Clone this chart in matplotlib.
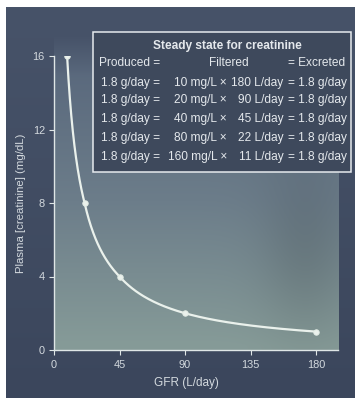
import numpy as np
import matplotlib
matplotlib.use("Agg")
import matplotlib.pyplot as plt
from matplotlib.patches import Rectangle

# ---------------- data ----------------
gfr = [9, 21, 45, 90, 180]          # L/day (as drawn)
plasma = [16, 8, 4, 2, 1]           # mg/dL
x_ticks = [0, 45, 90, 135, 180]
y_ticks = [0, 4, 8, 12, 16]

table_title = "Steady state for creatinine"
header = ["Produced =", "Filtered", "= Excreted"]
produced = ["1.8 g/day", "1.8 g/day", "1.8 g/day", "1.8 g/day", "1.8 g/day"]
conc = [10, 20, 40, 80, 160]        # mg/L
filt_gfr = [180, 90, 45, 22, 11]    # L/day
excreted = ["1.8 g/day", "1.8 g/day", "1.8 g/day", "1.8 g/day", "1.8 g/day"]

# ---------------- figure ----------------
W, H = 361, 403
DPI = 100
plt.rcParams['font.family'] = ['Liberation Sans', 'DejaVu Sans']
fig = plt.figure(figsize=(W / DPI, H / DPI), dpi=DPI, facecolor='white')

def px(x, y):
    return x / W, 1 - y / H

# background image (decoration: dark panel + lighter plot area)
yy, xx = np.mgrid[0:H, 0:W].astype(float)
img = np.ones((H, W, 3))
top_dark = np.array([0x47, 0x53, 0x69]) / 255
bot_dark = np.array([0x3b, 0x46, 0x5c]) / 255
t = np.clip((yy - 7) / 390, 0, 1)[..., None]
dark = top_dark * (1 - t) + bot_dark * t
frame = (xx >= 6) & (xx <= 354) & (yy >= 7) & (yy <= 397)
img[frame] = dark[frame]

c1 = np.array([0x5a, 0x69, 0x7d]) / 255
c2 = np.array([0x6c, 0x7d, 0x8a]) / 255
c3 = np.array([0x86, 0x9b, 0x98]) / 255
yl = yy[..., None]
light = np.where(yl < 200,
                 c1 + (c2 - c1) * np.clip((yl - 70) / 130, 0, 1),
                 c2 + (c3 - c2) * np.clip((yl - 200) / 145, 0, 1))
# slightly darker zone on the right side
blob = np.exp(-(((xx - 305) / 45) ** 2 + ((yy - 250) / 90) ** 2))[..., None]
light = light * (1 - 0.11 * blob)
alpha = np.clip((yy - 35) / 40, 0, 1)[..., None]
plot_region = ((xx >= 54) & (xx <= 338) & (yy <= 350))[..., None]
a = alpha * plot_region
img = img * (1 - a) + light * a

bg = fig.add_axes([0, 0, 1, 1], zorder=-10)
bg.imshow(img, extent=(0, W, H, 0), aspect='auto', interpolation='bilinear')
bg.set_xlim(0, W)
bg.set_ylim(H, 0)
bg.axis('off')

# ---------------- main axes ----------------
left, right, top, bottom = 54, 338, 56, 350
ax = fig.add_axes([left / W, 1 - bottom / H, (right - left) / W, (bottom - top) / H])
ax.set_facecolor('none')
ax.set_xlim(0, 195)
ax.set_ylim(0, 16)

spine_c = '#dfe6e6'
tick_c = '#d3d9de'
for s in ['top', 'right']:
    ax.spines[s].set_visible(False)
for s in ['left', 'bottom']:
    ax.spines[s].set_color(spine_c)
    ax.spines[s].set_linewidth(1.0)
ax.set_xticks(x_ticks)
ax.set_yticks(y_ticks)
ax.tick_params(axis='both', colors=spine_c, labelcolor=tick_c, direction='out',
               length=3.6, width=0.8, labelsize=7.9)
ax.tick_params(axis='x', pad=3.5)
ax.tick_params(axis='y', pad=3)

# smooth curve through the data (power-law segments between the points)
lx = np.log(gfr)
ly = np.log(plasma)
xs = np.linspace(lx[0], lx[-1], 400)
ys = np.interp(xs, lx, ly)
line_c = '#eaf1ec'
ax.plot(np.exp(xs), np.exp(ys), color=line_c, lw=1.6, solid_capstyle='round', zorder=3)
ax.plot(gfr, plasma, 'o', color=line_c, ms=4, mec='#dfe9e2', mew=0.6, zorder=4)

ax.set_xlabel("GFR (L/day)", fontsize=8.5, color=tick_c)
ax.set_ylabel("Plasma [creatinine] (mg/dL)", fontsize=8.2, color=tick_c)
ax.xaxis.set_label_coords((186.7 - left) / (right - left), -(383 - bottom) / (bottom - top))
ax.xaxis.label.set_va('center')
ax.yaxis.set_label_coords((20.7 - left) / (right - left), (bottom - 203) / (bottom - top))
ax.yaxis.label.set_va('center')

# ---------------- table box ----------------
bx0, by0, bx1, by1 = 93, 32, 351, 172
box = Rectangle(px(bx0, by1), (bx1 - bx0) / W, (by1 - by0) / H, transform=fig.transFigure,
                facecolor='#3e495c', edgecolor='#e6eaee', lw=1.1, zorder=5)
fig.patches.append(box)

txt_c = '#e4e8ec'
fs = 8.6
fig.text(*px(227, 45.7), table_title, ha='center', va='center', fontsize=8.6,
         fontweight='bold', color=txt_c, zorder=6)
fig.text(*px(99.5, 63), header[0], ha='left', va='center', fontsize=fs, color=txt_c, zorder=6)
fig.text(*px(229, 63), header[1], ha='center', va='center', fontsize=fs, color=txt_c, zorder=6)
fig.text(*px(345.5, 63), header[2], ha='right', va='center', fontsize=fs, color=txt_c, zorder=6)

row_y = [82.7, 100.5, 119.3, 137.5, 156.7]
for i in range(len(conc)):
    y = row_y[i]
    fig.text(*px(101.5, y), f"{produced[i]} =", ha='left', va='center', fontsize=fs, color=txt_c, zorder=6)
    fig.text(*px(227, y), f"{conc[i]} mg/L \u00d7", ha='right', va='center', fontsize=fs, color=txt_c, zorder=6)
    fig.text(*px(283.5, y), f"{filt_gfr[i]} L/day", ha='right', va='center', fontsize=fs, color=txt_c, zorder=6)
    fig.text(*px(347.5, y), f"= {excreted[i]}", ha='right', va='center', fontsize=fs, color=txt_c, zorder=6)

fig.savefig("out.png", dpi=DPI, facecolor='white')
